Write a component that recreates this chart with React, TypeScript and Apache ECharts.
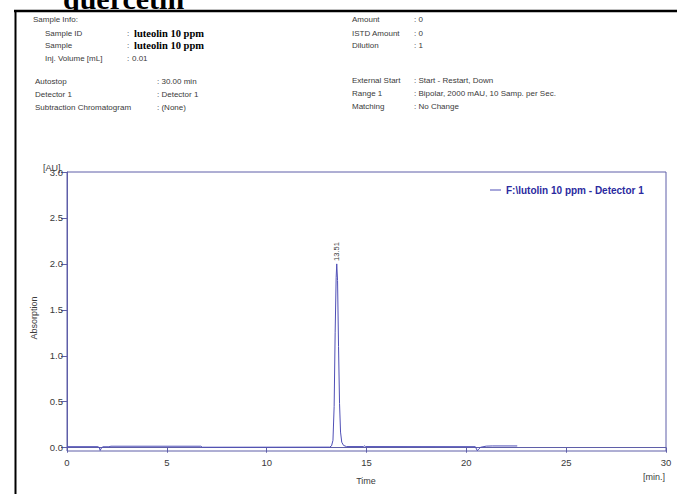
import React, { useEffect, useRef } from "react";
import * as echarts from "echarts";

// ---------- data ----------
const pageTitle = "quercetin";
const seriesName = "F:\\lutolin 10 ppm - Detector 1";

const sampleInfoLabel = "Sample Info:";
const sampleRowsLabels = ["Sample ID", "Sample", "Inj. Volume [mL]"];
const sampleRowsValues = ["luteolin 10 ppm", "luteolin 10 ppm", "0.01"];
const runRowsLabels = ["Autostop", "Detector 1", "Subtraction Chromatogram"];
const runRowsValues = ["30.00 min", "Detector 1", "(None)"];
const rightTopLabels = ["Amount", "ISTD Amount", "Dilution"];
const rightTopValues = ["0", "0", "1"];
const rightBottomLabels = ["External Start", "Range 1", "Matching"];
const rightBottomValues = ["Start - Restart, Down", "Bipolar, 2000 mAU, 10 Samp. per Sec.", "No Change"];

const times = [
  0, 1.55, 1.62, 1.66, 1.72, 1.8, 2.1, 2.2, 6.7, 6.78, 13.15, 13.25, 13.32, 13.38, 13.43,
  13.48, 13.51, 13.55, 13.6, 13.65, 13.7, 13.76, 13.85, 14.0, 14.85, 14.9, 14.95, 20.45,
  20.55, 20.62, 20.72, 21.0, 21.3, 22.55,
];
const absorbance = [
  0.011, 0.011, 0.0, -0.03, -0.005, 0.01, 0.01, 0.016, 0.016, 0.005, 0.006, 0.02, 0.08, 0.45,
  1.25, 1.85, 2.0, 1.82, 1.1, 0.48, 0.17, 0.06, 0.025, 0.012, 0.012, 0.02, 0.012, 0.011,
  -0.033, -0.015, 0.005, 0.017, 0.019, 0.019,
];
const peakTime = 13.51;
const peakValue = 2.0;
const peakLabel = "13.51";

const xTicks = [0, 5, 10, 15, 20, 25, 30];
const yTicks = [0, 0.5, 1.0, 1.5, 2.0, 2.5, 3.0];
const yUnit = "[AU]";
const yTitle = "Absorption";
const xTitle = "Time";
const xUnit = "[min.]";

// ---------- styles ----------
const SANS = "'Liberation Sans', Arial, sans-serif";
const SERIF = "'Liberation Serif', 'Times New Roman', serif";
const TXT = "#3a3a3a";
const FRAME = "#5f5fa8";
const LINE = "#4f4fb6";

function txt(text: string, x: number, y: number, extra: any = {}) {
  return {
    type: "text",
    x,
    y,
    z: 10,
    style: {
      text,
      fill: TXT,
      font: `8px ${SANS}`,
      align: "left",
      verticalAlign: "middle",
      ...extra,
    },
  };
}

export default function App() {
  const ref = useRef<HTMLDivElement>(null);

  useEffect(() => {
    if (!ref.current) return;
    const chart = echarts.init(ref.current, undefined, { renderer: "svg" });

    const graphics: any[] = [];
    // title (partially hidden behind the sheet)
    graphics.push({
      type: "text",
      x: 63,
      y: -2,
      z: -10,
      style: { text: pageTitle, fill: "#000", font: `bold 30px ${SERIF}`, align: "left", verticalAlign: "middle" },
    });
    // sheet
    graphics.push({ type: "rect", z: -5, shape: { x: 15, y: 10, width: 700, height: 500 }, style: { fill: "#fff" } });
    graphics.push({ type: "line", z: 11, shape: { x1: 14, y1: 11, x2: 677, y2: 11 }, style: { stroke: "#000", lineWidth: 2.5 } });
    graphics.push({ type: "line", z: 11, shape: { x1: 15.5, y1: 10, x2: 15.5, y2: 494 }, style: { stroke: "#000", lineWidth: 2 } });

    // header left
    const rowY1 = [33, 45.5, 58];
    const rowY2 = [81, 94, 107];
    graphics.push(txt(sampleInfoLabel, 33, 19.5));
    sampleRowsLabels.forEach((l, i) => {
      graphics.push(txt(l, 45, rowY1[i]));
      graphics.push(txt(":", 127, rowY1[i]));
      if (i < 2) {
        graphics.push(txt(sampleRowsValues[i], 134, rowY1[i], { font: `bold 10.5px ${SERIF}`, fill: "#000" }));
      } else {
        graphics.push(txt(sampleRowsValues[i], 132, rowY1[i]));
      }
    });
    runRowsLabels.forEach((l, i) => {
      graphics.push(txt(l, 35, rowY2[i]));
      graphics.push(txt(": " + runRowsValues[i], 157, rowY2[i]));
    });
    // header right
    const rightY1 = [19.5, 33, 45.5];
    const rightY2 = [80, 93, 106];
    rightTopLabels.forEach((l, i) => {
      graphics.push(txt(l, 352, rightY1[i]));
      graphics.push(txt(": " + rightTopValues[i], 414, rightY1[i]));
    });
    rightBottomLabels.forEach((l, i) => {
      graphics.push(txt(l, 352, rightY2[i]));
      graphics.push(txt(": " + rightBottomValues[i], 414, rightY2[i]));
    });

    // axis texts
    graphics.push(txt(yUnit, 43, 168, { font: `9px ${SANS}` }));
    graphics.push({
      type: "text",
      x: 34,
      y: 318,
      rotation: Math.PI / 2,
      z: 10,
      style: { text: yTitle, fill: TXT, font: `9px ${SANS}`, align: "center", verticalAlign: "middle" },
    });
    graphics.push(txt(xTitle, 366, 481, { font: `9px ${SANS}`, align: "center" }));
    graphics.push(txt(xUnit, 665, 477, { font: `9px ${SANS}`, align: "right" }));

    chart.setOption({
      animation: false,
      backgroundColor: "#fff",
      grid: {
        left: 67,
        right: 11,
        top: 172,
        bottom: 43,
        show: true,
        borderColor: FRAME,
        borderWidth: 1,
        z: 3,
      },
      legend: {
        show: true,
        orient: "horizontal",
        left: 490,
        top: 185,
        padding: 0,
        icon: "rect",
        itemWidth: 11,
        itemHeight: 1,
        itemGap: 5,
        z: 12,
        textStyle: { color: "#2a2aa0", fontWeight: "bold", fontSize: 10, fontFamily: SANS },
      },
      xAxis: {
        type: "value",
        min: 0,
        max: 30,
        interval: 5,
        axisLine: { show: true, lineStyle: { color: FRAME, width: 1 } },
        axisTick: { show: true, length: 5, lineStyle: { color: FRAME } },
        axisLabel: { color: TXT, fontSize: 9.5, fontFamily: SANS, margin: 6, customValues: xTicks },
        splitLine: { show: false },
      },
      yAxis: {
        type: "value",
        min: -0.036,
        max: 3.0,
        axisLine: { show: true, onZero: false, lineStyle: { color: FRAME, width: 1 } },
        axisTick: { show: true, length: 6, lineStyle: { color: FRAME }, customValues: yTicks },
        axisLabel: {
          color: TXT,
          fontSize: 9.5,
          fontFamily: SANS,
          margin: 4,
          customValues: yTicks,
          formatter: (v: number) => v.toFixed(1),
        },
        splitLine: { show: false },
      },
      series: [
        {
          name: seriesName,
          type: "line",
          data: times.map((t, i) => [t, absorbance[i]]),
          symbol: "none",
          showSymbol: false,
          lineStyle: { color: LINE, width: 1 },
          itemStyle: { color: LINE },
          z: 4,
          markPoint: {
            symbol: "circle",
            symbolSize: 0,
            silent: true,
            data: [{ coord: [peakTime, peakValue] }],
            label: {
              show: true,
              formatter: peakLabel,
              position: "top",
              distance: 3,
              rotate: 90,
              align: "left",
              verticalAlign: "middle",
              color: TXT,
              fontSize: 7.5,
              fontFamily: SANS,
            },
          },
        },
      ],
      graphic: graphics,
    });

    return () => chart.dispose();
  }, []);

  return (
    <div
      ref={ref}
      style={{ position: "fixed", left: 0, top: 0, width: 677, height: 494, background: "#fff" }}
    />
  );
}
